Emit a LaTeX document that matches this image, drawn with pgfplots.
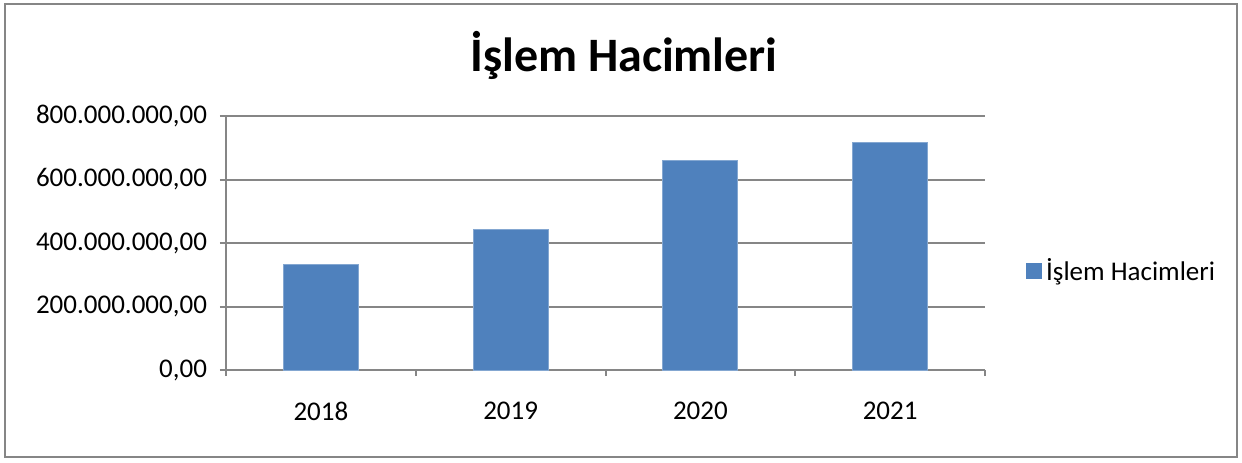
\documentclass[border=0pt]{standalone}
\usepackage{pgfplots}
\pgfplotsset{compat=1.18}
\usepackage{fontspec}
\setmainfont{Carlito}
\definecolor{barblue}{RGB}{79,129,189}
\definecolor{axgray}{RGB}{134,134,134}
\begin{document}
\begin{tikzpicture}
\useasboundingbox (-113pt,-46pt) rectangle (508pt,185pt);
\draw[axgray, line width=1pt] (-110.5pt,-43.5pt) rectangle (505.5pt,183pt);
\node[font=\fontsize{24}{28}\selectfont\bfseries] at (199pt,157.5pt) {İşlem Hacimleri};
\begin{axis}[
  at={(0,0)}, anchor=south west,
  scale only axis, width=379.5pt, height=127pt,
  xmin=0.5, xmax=4.5, ymin=0, ymax=800000000,
  scaled y ticks=false,
  axis x line*=bottom, axis y line*=left,
  axis line style={axgray, line width=1pt},
  xtick={1,2,3,4},
  xticklabels={2018,2019,2020,2021},
  minor xtick={0.5,1.5,2.5,3.5,4.5},
  major x tick style={draw=none},
  minor x tick style={axgray, line width=1pt},
  minor tick length=3pt,
  ytick={0,200000000,400000000,600000000,800000000},
  yticklabels={{0,00},{200.000.000,00},{400.000.000,00},{600.000.000,00},{800.000.000,00}},
  y tick style={axgray, line width=1pt},
  major tick length=3pt,
  tick align=outside,
  ymajorgrids,
  grid style={axgray, line width=1pt},
  ticklabel style={font=\fontsize{13.5}{16}\selectfont, text=black},
  yticklabel style={xshift=-3pt},
  xticklabel style={yshift=-9.5pt},
  /pgf/number format/assume math mode=true,
  legend style={at={(1.054,0.389)}, anchor=west, draw=none, fill=none, font=\fontsize{13.5}{16}\selectfont, inner sep=0pt},
  legend image code/.code={\fill[barblue] (0pt,-3.75pt) rectangle (7.5pt,3.75pt);},
]
\addplot[ybar, bar width=37.5pt, fill=barblue, draw=barblue!70!white, line width=0.4pt]
  coordinates {(1,333000000) (2,444000000) (3,659000000) (4,716000000)};
\addlegendentry{İşlem Hacimleri}
\end{axis}
\end{tikzpicture}
\end{document}
